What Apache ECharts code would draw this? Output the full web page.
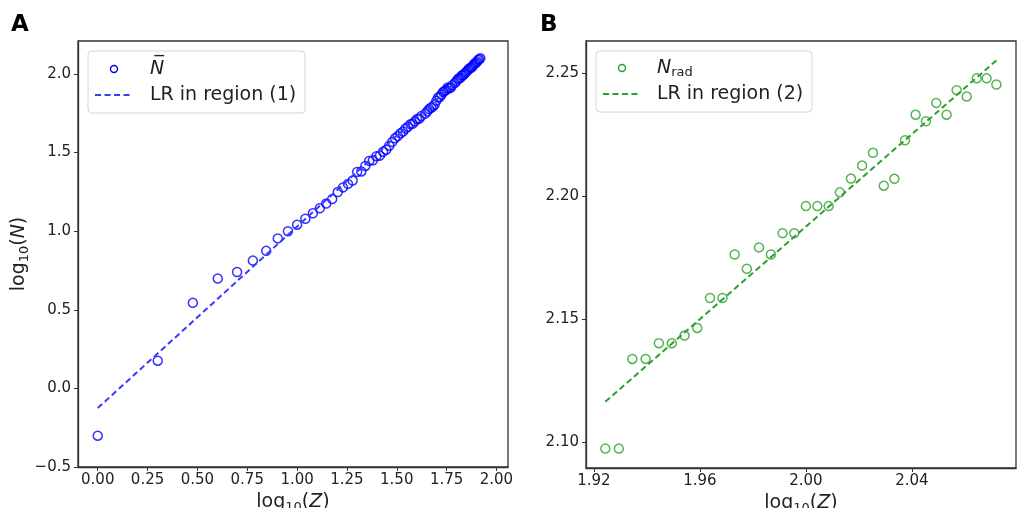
<!DOCTYPE html>
<html>
<head>
<meta charset="utf-8">
<script src="https://cdn.jsdelivr.net/npm/echarts@6/dist/echarts.min.js"></script>
<style>
  html, body { margin: 0; padding: 0; background: #fff; }
  #chart { width: 1033px; height: 508px; }
</style>
</head>
<body>
<div id="chart"></div>
<script>
// Panel A: log10(Z) vs log10(mean N) for stable elements
const logZStable = [
  0, 0.3010, 0.4771, 0.6021, 0.6990, 0.7782, 0.8451, 0.9031, 0.9542, 1.0,
  1.0414, 1.0792, 1.1139, 1.1461, 1.1761, 1.2041, 1.2304, 1.2553, 1.2788, 1.3010,
  1.3222, 1.3424, 1.3617, 1.3802, 1.3979, 1.4150, 1.4314, 1.4472, 1.4624, 1.4771,
  1.4914, 1.5051, 1.5185, 1.5315, 1.5441, 1.5563, 1.5682, 1.5798, 1.5911, 1.6021,
  1.6128, 1.6232, 1.6435, 1.6532, 1.6628, 1.6721, 1.6812, 1.6902, 1.6990, 1.7076,
  1.7160, 1.7243, 1.7324, 1.7404, 1.7482, 1.7559, 1.7634, 1.7709, 1.7782, 1.7924,
  1.7993, 1.8062, 1.8129, 1.8195, 1.8261, 1.8325, 1.8388, 1.8451, 1.8513, 1.8573,
  1.8633, 1.8692, 1.8751, 1.8808, 1.8865, 1.8921, 1.8976, 1.9031, 1.9085, 1.9138,
  1.9191
];
const logNMean = [
  -0.3010, 0.1761, 0.5441, 0.6990, 0.7404, 0.8129, 0.8751, 0.9542, 1.0, 1.0414,
  1.0792, 1.1139, 1.1461, 1.1761, 1.2041, 1.2492, 1.2788, 1.3010, 1.3222, 1.3772,
  1.3802, 1.4150, 1.4472, 1.4510, 1.4771, 1.4807, 1.5051, 1.5185, 1.5441, 1.5682,
  1.5911, 1.6048, 1.6232, 1.6335, 1.6532, 1.6644, 1.6812, 1.6835, 1.6990, 1.7139,
  1.7160, 1.7324, 1.7482, 1.7634, 1.7769, 1.7853, 1.7936, 1.8062, 1.8306, 1.8513,
  1.8533, 1.8692, 1.8851, 1.8921, 1.8995, 1.9138, 1.9085, 1.9138, 1.9284, 1.9435,
  1.9542, 1.9669, 1.9731, 1.9758, 1.9912, 1.9920, 2.0, 2.0086, 2.0170, 2.0253,
  2.0334, 2.0404, 2.0414, 2.0505, 2.0607, 2.0682, 2.0719, 2.0792, 2.0899, 2.0943,
  2.1004
];
const lr1X = [0, 1.9191];
const lr1Y = [-0.125, 2.0916];

// Panel B: heavy elements, N_rad
const logZRad = [
  1.9243, 1.9294, 1.9345, 1.9395, 1.9445, 1.9494, 1.9542, 1.9590, 1.9638, 1.9685,
  1.9731, 1.9777, 1.9823, 1.9868, 1.9912, 1.9956, 2.0, 2.0043, 2.0086, 2.0128,
  2.0170, 2.0212, 2.0253, 2.0294, 2.0334, 2.0374, 2.0414, 2.0453, 2.0492, 2.0531,
  2.0569, 2.0607, 2.0645, 2.0682, 2.0719
];
const logNRad = [
  2.0973, 2.0973, 2.1338, 2.1338, 2.1402, 2.1402, 2.1433, 2.1464, 2.1586, 2.1586,
  2.1763, 2.1705, 2.1792, 2.1763, 2.1850, 2.1850, 2.1960, 2.1960, 2.1960, 2.2016,
  2.2072, 2.2125, 2.2177, 2.2043, 2.2071, 2.2228, 2.2332, 2.2305, 2.2380, 2.2332,
  2.2432, 2.2406, 2.2480, 2.2480, 2.2455
];
const lr2X = [1.9243, 2.0719];
const lr2Y = [2.1164, 2.2553];

const tickA_X = [0, 0.25, 0.5, 0.75, 1.0, 1.25, 1.5, 1.75, 2.0];
const tickA_Y = [-0.5, 0, 0.5, 1.0, 1.5, 2.0];
const tickB_X = [1.92, 1.96, 2.00, 2.04, 2.08];
const tickB_Y = [2.10, 2.15, 2.20, 2.25];

const FONT = 'DejaVu Sans';
const BLUE = '#0000ff';
const BLUE_LINE = '#3a3aff';
const GREEN = '#2ca02c';
const DARK = '#222';

// matplotlib-style labels: fixed decimals, unicode minus
const fmt = digits => v => (Number(v) < 0 ? '\u2212' : '') + Math.abs(Number(v)).toFixed(digits);

const nameRich = {
  n: { fontFamily: FONT, fontSize: 19, color: DARK },
  s: { fontFamily: FONT, fontSize: 13, color: DARK, padding: [10, 0, 0, 0] },
  i: { fontFamily: FONT, fontSize: 19, fontStyle: 'italic', color: DARK }
};

function xAxis(gridIndex, min, max, ticks, digits) {
  return {
    type: 'value', gridIndex, min, max,
    name: '{n|log}{s|10}{n|(}{i|Z}{n|)}',
    nameLocation: 'middle', nameGap: 24,
    nameTextStyle: { rich: nameRich },
    axisLine: { show: true, onZero: false, lineStyle: { color: '#333', width: 1.3 } },
    axisTick: { show: true, length: 4, customValues: ticks, lineStyle: { color: '#333', width: 1 } },
    axisLabel: {
      customValues: ticks, margin: 6, color: DARK, fontFamily: FONT, fontSize: 15,
      formatter: fmt(digits)
    },
    splitLine: { show: false }
  };
}

function yAxis(gridIndex, min, max, ticks, digits, withName) {
  const ax = {
    type: 'value', gridIndex, min, max,
    axisLine: { show: true, onZero: false, lineStyle: { color: '#333', width: 1.3 } },
    axisTick: { show: true, length: 4, customValues: ticks, lineStyle: { color: '#333', width: 1 } },
    axisLabel: {
      customValues: ticks, margin: 7, color: DARK, fontFamily: FONT, fontSize: 15,
      formatter: fmt(digits)
    },
    splitLine: { show: false }
  };
  if (withName) {
    ax.name = '{n|log}{s|10}{n|(}{i|N}{n|)}';
    ax.nameLocation = 'middle';
    ax.nameGap = 46;
    ax.nameTextStyle = { rich: nameRich };
  }
  return ax;
}

const pairs = (xs, ys) => xs.map((x, k) => [x, ys[k]]);

const chart = echarts.init(document.getElementById('chart'), null, { renderer: 'canvas' });

const legendText = { fontFamily: FONT, fontSize: 19, fill: DARK };

const option = {
  animation: false,
  backgroundColor: '#fff',
  grid: [
    { left: 78, top: 41, width: 430, height: 426, outerBoundsMode: 'none', containLabel: false,
      show: true, borderColor: '#333', borderWidth: 1.3, backgroundColor: 'transparent' },
    { left: 586, top: 41, width: 430, height: 427, outerBoundsMode: 'none', containLabel: false,
      show: true, borderColor: '#333', borderWidth: 1.3, backgroundColor: 'transparent' }
  ],
  xAxis: [
    xAxis(0, -0.099, 2.058, tickA_X, 2),
    xAxis(1, 1.917, 2.0793, tickB_X, 2)
  ],
  yAxis: [
    yAxis(0, -0.5, 2.21, tickA_Y, 1, true),
    yAxis(1, 2.0894, 2.2632, tickB_Y, 2, false)
  ],
  series: [
    {
      type: 'scatter', xAxisIndex: 0, yAxisIndex: 0,
      data: pairs(logZStable, logNMean),
      symbol: 'circle', symbolSize: 9,
      itemStyle: { color: 'transparent', borderColor: BLUE, borderWidth: 1.5 }
    },
    {
      type: 'line', xAxisIndex: 0, yAxisIndex: 0,
      data: pairs(lr1X, lr1Y), symbol: 'none',
      lineStyle: { color: BLUE_LINE, width: 2, type: [6, 3.5] }
    },
    {
      type: 'scatter', xAxisIndex: 1, yAxisIndex: 1,
      data: pairs(logZRad, logNRad),
      symbol: 'circle', symbolSize: 9,
      itemStyle: { color: 'transparent', borderColor: GREEN, borderWidth: 1.5 }
    },
    {
      type: 'line', xAxisIndex: 1, yAxisIndex: 1,
      data: pairs(lr2X, lr2Y), symbol: 'none',
      lineStyle: { color: GREEN, width: 2, type: [6, 3.5] }
    }
  ],
  graphic: [
    // panel letters
    { type: 'text', left: 11, top: 14, style: { text: 'A', fontFamily: FONT, fontSize: 23, fontWeight: 'bold', fill: '#000' } },
    { type: 'text', left: 540, top: 14, style: { text: 'B', fontFamily: FONT, fontSize: 23, fontWeight: 'bold', fill: '#000' } },
    // legend A
    { type: 'rect', shape: { x: 88, y: 51, width: 217, height: 62, r: 4 }, style: { fill: 'rgba(255,255,255,0.8)', stroke: '#d6d6d6', lineWidth: 1 }, z: 10 },
    { type: 'circle', shape: { cx: 114, cy: 69, r: 3.5 }, style: { fill: 'none', stroke: BLUE, lineWidth: 1.4 }, z: 11 },
    { type: 'text', x: 150, y: 69, style: { text: 'N\u0305', fontFamily: FONT, fontSize: 19, fontStyle: 'italic', fill: DARK, verticalAlign: 'middle' }, z: 11 },
    { type: 'line', shape: { x1: 95, y1: 95, x2: 133, y2: 95 }, style: { stroke: BLUE_LINE, lineWidth: 2, lineDash: [6, 3.5] }, z: 11 },
    { type: 'text', x: 150, y: 95, style: Object.assign({ text: 'LR in region (1)', verticalAlign: 'middle' }, legendText), z: 11 },
    // legend B
    { type: 'rect', shape: { x: 596, y: 51, width: 216, height: 61, r: 4 }, style: { fill: 'rgba(255,255,255,0.8)', stroke: '#d6d6d6', lineWidth: 1 }, z: 10 },
    { type: 'circle', shape: { cx: 622, cy: 68, r: 3.5 }, style: { fill: 'none', stroke: GREEN, lineWidth: 1.4 }, z: 11 },
    {
      type: 'text', x: 657, y: 68, z: 11,
      style: {
        text: '{i|N}{s|rad}', verticalAlign: 'middle',
        rich: {
          i: { fontFamily: FONT, fontSize: 19, fontStyle: 'italic', fill: DARK },
          s: { fontFamily: FONT, fontSize: 13, fill: DARK, padding: [10, 0, 0, 0] }
        }
      }
    },
    { type: 'line', shape: { x1: 603, y1: 94, x2: 640, y2: 94 }, style: { stroke: GREEN, lineWidth: 2, lineDash: [6, 3.5] }, z: 11 },
    { type: 'text', x: 657, y: 94, style: Object.assign({ text: 'LR in region (2)', verticalAlign: 'middle' }, legendText), z: 11 }
  ]
};

chart.setOption(option);
</script>
</body>
</html>
